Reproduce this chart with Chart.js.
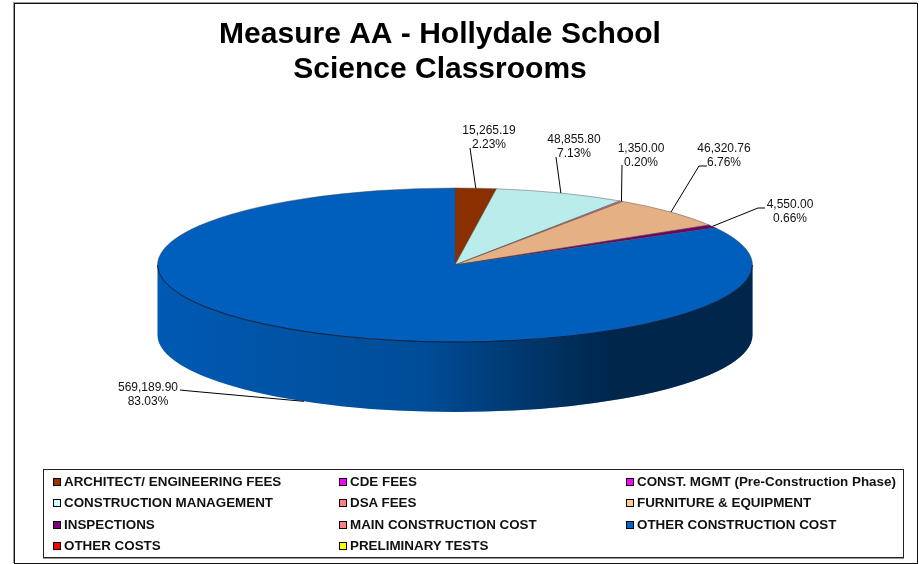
<!DOCTYPE html>
<html>
<head>
<meta charset="utf-8">
<title>Measure AA - Hollydale School</title>
<script src="https://cdn.jsdelivr.net/npm/chart.js@4"></script>
<style>
    html, body { margin: 0; padding: 0; background: #fff; overflow: hidden; }
    #wrap { position: relative; width: 919px; height: 564px; }
    #frame {
        position: absolute; left: 14px; top: 3px; width: 902px; height: 559px;
        border: 1px solid #111; box-shadow: -1px -1px 0 #999;
    }
    #legend {
        position: absolute; left: 43px; top: 469px; width: 859px; height: 87px;
        border: 1px solid #222; box-shadow: 0 1px 0 #999;
        font: bold 13.4px "Liberation Sans", Arial, sans-serif; color: #111;
    }
    .item { position: absolute; white-space: nowrap; line-height: 16px; }
    .swatch {
        position: absolute; left: -11px; top: 4px; width: 6px; height: 6px;
        border: 1px solid #000;
    }
    canvas { display: block; }
</style>
</head>
<body>
<div id="wrap">
    <div id="frame"></div>
    <canvas id="chart" width="919" height="564"></canvas>
    <div id="legend"></div>
</div>
<script>
const titleLines = ['Measure AA - Hollydale School', 'Science Classrooms'];

const categories = [
    'ARCHITECT/ ENGINEERING FEES', 'CDE FEES', 'CONST. MGMT (Pre-Construction Phase)',
    'CONSTRUCTION MANAGEMENT', 'DSA FEES', 'FURNITURE & EQUIPMENT',
    'INSPECTIONS', 'MAIN CONSTRUCTION COST', 'OTHER CONSTRUCTION COST',
    'OTHER COSTS', 'PRELIMINARY TESTS'
];
const values = [15265.19, 0, 0, 48855.80, 1350, 46320.76, 4550, 0, 569189.90, 0, 0];

const sliceColors = [
    '#8a3000', '#e600e6', '#e600e6', '#bbecec', '#d97070', '#e6b085',
    '#6e006e', '#d97070', '#005fbd', '#e60000', '#e6e600'
];
const legendColors = [
    '#993300', '#ff00ff', '#ff00ff', '#ccffff', '#ff8080', '#ffcc99',
    '#800080', '#ff8080', '#0066cc', '#ff0000', '#ffff00'
];

// elipse de la tarta en pixeles de pantalla
const pieX = 455;
const pieY = 265;
const pieRy = 77;
const pieDepth = 70;

// etiqueta: centro del texto y codo de la linea guia (por indice de categoria)
const labelSpots = {
    0: { x: 489, y: 130, line: [[470, 148]] },
    3: { x: 574, y: 139, line: [[556, 157]] },
    4: { x: 641, y: 148, line: [[622, 165]] },
    5: { x: 724, y: 148, line: [[707, 166], [699, 166]] },
    6: { x: 790, y: 204, line: [[765, 208], [758, 208]] },
    8: { x: 148, y: 387, line: [[180, 390], [190, 391]] }
};

const legendCols = [64, 350, 637];
const legendRows = [482, 503, 525, 546];

const total = values.reduce((a, b) => a + b, 0);
const money = v => v.toLocaleString('en-US', { minimumFractionDigits: 2, maximumFractionDigits: 2 });

function squash(ctx, arc) {
    ctx.translate(pieX, pieY);
    ctx.scale(1, pieRy / arc.outerRadius);
    ctx.translate(-arc.x, -arc.y);
}

// cara lateral de la tarta, solo la mitad frontal se ve
function drawSide(chart) {
    const ctx = chart.ctx;
    const arcs = chart.getDatasetMeta(0).data;
    const rx = arcs[0].outerRadius;
    arcs.forEach((arc, i) => {
        if (!values[i]) return;
        let a0 = arc.startAngle;
        let a1 = arc.endAngle;
        if (a1 > Math.PI * 2) { a0 -= Math.PI * 2; a1 -= Math.PI * 2; }
        a0 = Math.max(a0, 0);
        a1 = Math.min(a1, Math.PI);
        if (a1 <= a0) return;

        ctx.beginPath();
        ctx.ellipse(pieX, pieY, rx, pieRy, 0, a0, a1);
        ctx.ellipse(pieX, pieY + pieDepth, rx, pieRy, 0, a1, a0, true);
        ctx.closePath();
        ctx.fillStyle = sliceColors[i];
        ctx.fill();

        const shade = ctx.createLinearGradient(pieX - rx, 0, pieX + rx, 0);
        shade.addColorStop(0, 'rgba(0,0,0,0.06)');
        shade.addColorStop(0.45, 'rgba(0,0,0,0.2)');
        shade.addColorStop(0.68, 'rgba(0,0,0,0.5)');
        shade.addColorStop(0.76, 'rgba(0,0,0,0.6)');
        shade.addColorStop(1, 'rgba(0,0,0,0.6)');
        ctx.fillStyle = shade;
        ctx.fill();
    });
}

function drawLabels(chart) {
    const ctx = chart.ctx;
    const arcs = chart.getDatasetMeta(0).data;
    const rx = arcs[0].outerRadius;

    // filo oscuro entre la tapa y el lateral
    ctx.beginPath();
    ctx.ellipse(pieX, pieY, rx, pieRy, 0, 0, Math.PI);
    ctx.strokeStyle = 'rgba(0,15,40,0.8)';
    ctx.lineWidth = 1;
    ctx.stroke();

    ctx.font = '12px "Liberation Sans", Arial, sans-serif';
    ctx.textAlign = 'center';
    ctx.textBaseline = 'middle';
    Object.keys(labelSpots).forEach(key => {
        const i = Number(key);
        const spot = labelSpots[key];
        const arc = arcs[i];
        const mid = (arc.startAngle + arc.endAngle) / 2;
        const endX = pieX + rx * Math.cos(mid);
        let endY = pieY + pieRy * Math.sin(mid);
        if (Math.sin(mid) > 0) endY += pieDepth;

        ctx.beginPath();
        ctx.moveTo(spot.line[0][0], spot.line[0][1]);
        spot.line.slice(1).forEach(p => ctx.lineTo(p[0], p[1]));
        ctx.lineTo(endX, endY);
        ctx.strokeStyle = '#000';
        ctx.lineWidth = 1;
        ctx.stroke();

        ctx.fillStyle = '#111';
        ctx.fillText(money(values[i]), spot.x, spot.y + 1);
        ctx.fillText((values[i] / total * 100).toFixed(2) + '%', spot.x, spot.y + 15);
    });
}

const flatPie = {
    id: 'flatPie',
    beforeDatasetsDraw(chart) {
        drawSide(chart);
        chart.ctx.save();
        squash(chart.ctx, chart.getDatasetMeta(0).data[0]);
    },
    afterDatasetsDraw(chart) {
        chart.ctx.restore();
        drawLabels(chart);
    }
};

function renderLegend() {
    const box = document.getElementById('legend');
    const rect = box.getBoundingClientRect();
    categories.forEach((name, i) => {
        const item = document.createElement('div');
        item.className = 'item';
        item.style.left = (legendCols[i % 3] - rect.left - 1) + 'px';
        item.style.top = (legendRows[Math.floor(i / 3)] - rect.top - 9) + 'px';
        item.textContent = name;
        const swatch = document.createElement('span');
        swatch.className = 'swatch';
        swatch.style.background = legendColors[i];
        item.appendChild(swatch);
        box.appendChild(item);
    });
}

new Chart(document.getElementById('chart').getContext('2d'), {
    type: 'pie',
    data: {
        labels: categories,
        datasets: [{
            data: values,
            backgroundColor: sliceColors,
            borderColor: 'rgba(70,70,70,0.7)',
            borderWidth: 1,
            clip: false
        }]
    },
    options: {
        responsive: false,
        animation: false,
        radius: 297.5,
        layout: { padding: { right: 39, top: 17 } },
        events: [],
        plugins: {
            legend: { display: false },
            tooltip: { enabled: false },
            title: {
                display: true,
                text: titleLines,
                color: '#000',
                font: { family: '"Liberation Sans", Arial, sans-serif', size: 30, weight: 'bold', lineHeight: 1.17 },
                padding: 0
            }
        }
    },
    plugins: [flatPie]
});

renderLegend();
</script>
</body>
</html>
